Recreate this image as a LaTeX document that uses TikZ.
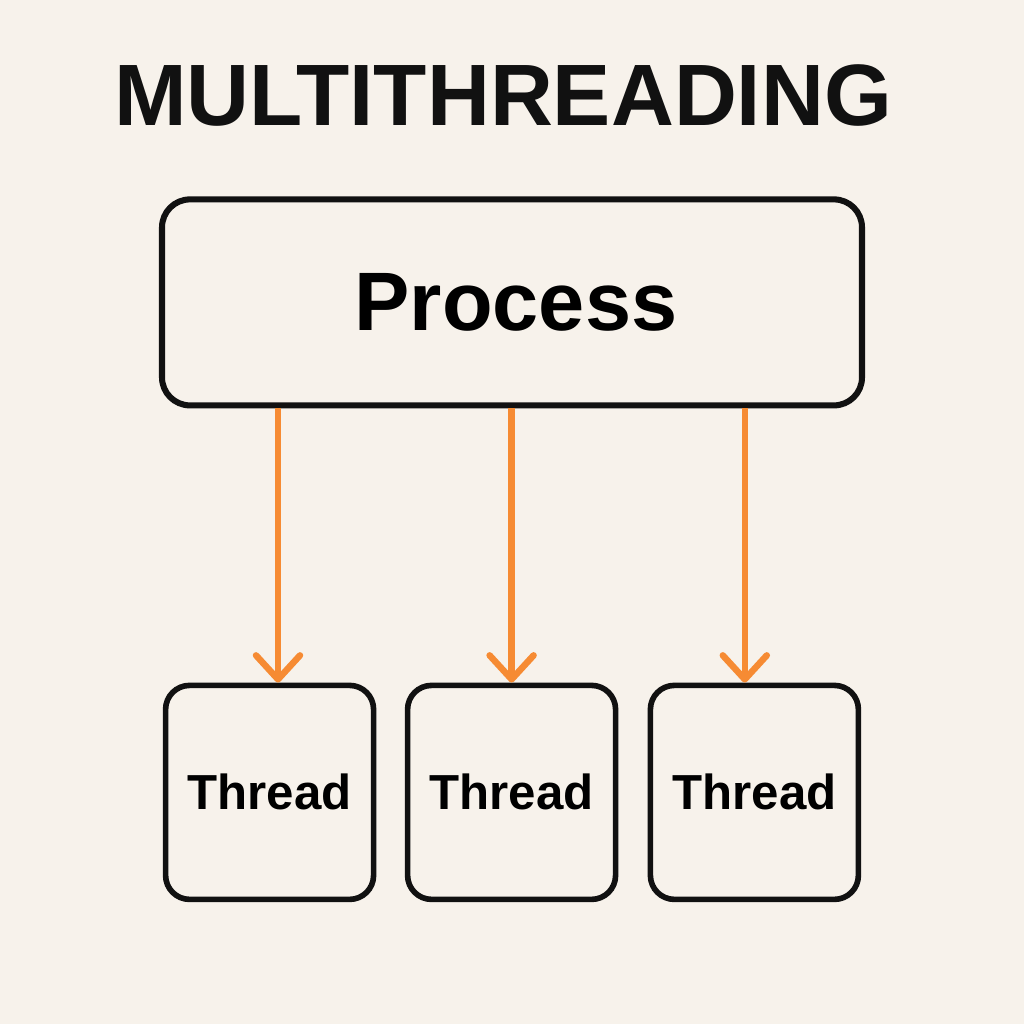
\documentclass[tikz,border=0pt]{standalone}
\usepackage{fontspec}
\setmainfont{Liberation Sans}
\usepackage{xcolor}
\usetikzlibrary{arrows.meta, positioning}

\definecolor{paper}{HTML}{F7F2EB}
\definecolor{ink}{HTML}{111111}
\definecolor{flow}{HTML}{F68B33}

\begin{document}
\begin{tikzpicture}[
    box/.style={rectangle, rounded corners=0.7cm, draw=ink, line width=4.3pt, fill=paper, minimum width=17.5cm, minimum height=5.15cm, inner sep=0pt, font=\fontsize{59}{66}\selectfont\bfseries},
    thread/.style={rectangle, rounded corners=0.6cm, draw=ink, line width=4pt, fill=paper, minimum width=5.2cm, minimum height=5.35cm, inner sep=0pt, font=\fontsize{35}{40}\selectfont\bfseries},
    conn/.style={-{Straight Barb[length=0.6cm, width=1.1cm, line cap=round, line join=round]}, line width=4.6pt, flow}
]
\fill[paper] (0,0) rectangle (25.6,25.6);
\useasboundingbox (0,0) rectangle (25.6,25.6);

\node[font=\fontsize{62}{70}\selectfont\bfseries, text=ink] (title) at (12.575,23.2) {MULTITHREADING};

\node[box] (proc) at (12.8,18.04) {\hspace{0.2cm}Process};

\node[thread] (t1) at (6.74,5.79) {\raisebox{-0.12cm}{Thread}};
\node[thread] (t2) at (12.79,5.79) {\raisebox{-0.12cm}{Thread}};
\node[thread] (t3) at (18.86,5.79) {\raisebox{-0.12cm}{Thread}};

\draw[conn] ([xshift=0.21cm]proc.south -| t1.north) -- ([xshift=0.21cm]t1.north);
\draw[conn] (proc.south -| t2.north) -- (t2.north);
\draw[conn] ([xshift=-0.24cm]proc.south -| t3.north) -- ([xshift=-0.24cm]t3.north);
\end{tikzpicture}
\end{document}
